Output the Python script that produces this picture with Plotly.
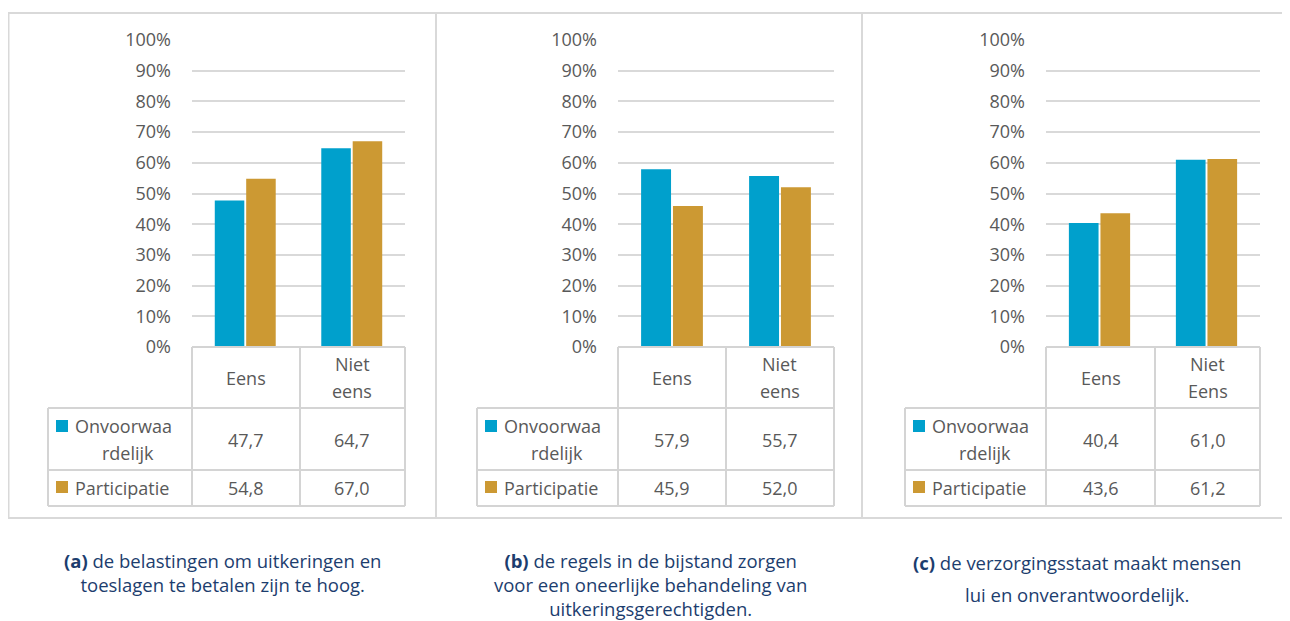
import plotly.graph_objects as go

# ---------------- data ----------------
categories = [["Eens", "Niet<br>eens"], ["Eens", "Niet<br>eens"], ["Eens", "Niet<br>Eens"]]
onvoorwaardelijk = [[47.7, 64.7], [57.9, 55.7], [40.4, 61.0]]
participatie = [[54.8, 67.0], [45.9, 52.0], [43.6, 61.2]]
series_names = ["Onvoorwaa<br>rdelijk", "Participatie"]
captions = [
    ["<b>(a)</b> de belastingen om uitkeringen en", "toeslagen te betalen zijn te hoog."],
    ["<b>(b)</b> de regels in de bijstand zorgen", "voor een oneerlijke behandeling van", "uitkeringsgerechtigden."],
    ["<b>(c)</b> de verzorgingsstaat maakt mensen", "lui en onverantwoordelijk."],
]
y_ticks = list(range(0, 101, 10))

# ---------------- style ----------------
BLUE = "#00A0CC"
GOLD = "#CC9933"
TXT = "#595959"
GRID = "#D9D9D9"
TBL = "#D4D4D4"
CAP = "#1C3D6E"
FONT = "Open Sans"
FS = 18
LINE = 27  # line spacing of two-line table labels

# page offset (body margin) and figure size
OFF = 8
W, H = 1290 - OFF, 621 - OFF

# panel geometry (pixels, in screenshot coordinates)
panels = [
    dict(left=8.5, right=436, leg=48, px0=192, px1=405, split=300, cx=222),
    dict(left=436, right=862, leg=477, px0=618, px1=834, split=726, cx=650),
    dict(left=862, right=1295, leg=905, px0=1046, px1=1260, split=1155, cx=1077),
]
PLOT_TOP, PLOT_BOT = 40, 347
ROW1, ROW2, ROW3 = 408, 470, 506
BOX_TOP, BOX_BOT = 13, 518
# caption placement: (first line centre y, line spacing, as one block?)
cap_pos = [(560, 24, True), (560, 24, True), (562, 32, False)]


def fx(x):
    return (x - OFF) / W


def fy(y):
    return 1 - (y - OFF) / H


fig = go.Figure()
shapes = []
annotations = []


def hline(x0, x1, y, color=TBL, w=2):
    shapes.append(dict(type="line", xref="paper", yref="paper", x0=fx(x0), x1=fx(x1), y0=fy(y), y1=fy(y),
                       line=dict(color=color, width=w)))


def vline(x, y0, y1, color=TBL, w=2):
    shapes.append(dict(type="line", xref="paper", yref="paper", x0=fx(x), x1=fx(x), y0=fy(y0), y1=fy(y1),
                       line=dict(color=color, width=w)))


def text(x, y, t, size=FS, color=TXT, xanchor="center", align="center", family=FONT):
    annotations.append(dict(xref="paper", yref="paper", x=fx(x), y=fy(y), text=t, showarrow=False,
                            xanchor=xanchor, yanchor="middle", align=align,
                            font=dict(family=family, size=size, color=color)))


def multiline(x, yc, t, xanchors=None):
    lines = t.split("<br>")
    k = len(lines)
    for j, ln in enumerate(lines):
        yy = yc + (j - (k - 1) / 2) * LINE
        xx, xa = (x, "center") if xanchors is None else xanchors[j]
        text(xx, yy, ln, xanchor=xa)


for i, p in enumerate(panels):
    n = "" if i == 0 else str(i + 1)
    xa, ya = "x" + n, "y" + n
    fig.add_trace(go.Bar(x=[0, 1], y=onvoorwaardelijk[i], marker=dict(color=BLUE, line=dict(width=0)),
                         xaxis=xa, yaxis=ya, showlegend=False, name="Onvoorwaardelijk"))
    fig.add_trace(go.Bar(x=[0, 1], y=participatie[i], marker=dict(color=GOLD, line=dict(width=0)),
                         xaxis=xa, yaxis=ya, showlegend=False, name="Participatie"))
    fig.layout["xaxis" + n] = dict(domain=[fx(p["px0"]), fx(p["px1"])], range=[-0.5, 1.5],
                                   showticklabels=False, showgrid=False, zeroline=False,
                                   showline=False, anchor=ya, fixedrange=True, automargin=False)
    fig.layout["yaxis" + n] = dict(domain=[fy(PLOT_BOT), fy(PLOT_TOP)], range=[0, 100],
                                   tickvals=y_ticks, ticktext=[f"{v}%" for v in y_ticks],
                                   gridcolor=GRID, gridwidth=1.5, zeroline=False, showline=False,
                                   anchor=xa, ticks="", ticklabelstandoff=20, automargin=False,
                                   tickfont=dict(family=FONT, size=FS, color=TXT), fixedrange=True)

    # panel border
    shapes.append(dict(type="rect", xref="paper", yref="paper", x0=fx(p["left"]), x1=fx(p["right"]),
                       y0=fy(BOX_BOT), y1=fy(BOX_TOP), line=dict(color=GRID, width=2)))

    # data table
    hline(p["px0"], p["px1"], PLOT_BOT)
    hline(p["leg"], p["px1"], ROW1)
    hline(p["leg"], p["px1"], ROW2)
    hline(p["leg"], p["px1"], ROW3)
    vline(p["px0"], PLOT_BOT, ROW3)
    vline(p["split"], PLOT_BOT, ROW3)
    vline(p["px1"], PLOT_BOT, ROW3)
    vline(p["leg"], ROW1, ROW3)

    col_centers = [(p["px0"] + p["split"]) / 2, (p["split"] + p["px1"]) / 2]
    for c, cat in zip(col_centers, categories[i]):
        multiline(c, (PLOT_BOT + ROW1) / 2, cat)
    for c, v in zip(col_centers, onvoorwaardelijk[i]):
        text(c, (ROW1 + ROW2) / 2 + 1, f"{v:.1f}".replace(".", ","))
    for c, v in zip(col_centers, participatie[i]):
        text(c, (ROW2 + ROW3) / 2, f"{v:.1f}".replace(".", ","))

    # legend keys
    for (y_sq, y_txt, color, name) in [(426, (ROW1 + ROW2) / 2, BLUE, series_names[0]),
                                       (487, (ROW2 + ROW3) / 2, GOLD, series_names[1])]:
        shapes.append(dict(type="rect", xref="paper", yref="paper", x0=fx(p["leg"] + 8), x1=fx(p["leg"] + 20),
                           y0=fy(y_sq + 6), y1=fy(y_sq - 6), fillcolor=color, line=dict(width=0)))
        anchors = [(p["leg"] + 25, "left"), (p["leg"] + 80, "center")]
        multiline(None, y_txt, name, xanchors=anchors)

    # caption
    y0, sp, block = cap_pos[i]
    lines = captions[i]
    if block:
        yc = y0 + sp * (len(lines) - 1) / 2
        text(p["cx"], yc, "<br>".join(lines), size=18.5, color=CAP)
    else:
        for j, line in enumerate(lines):
            text(p["cx"], y0 + j * sp, line, size=18.5, color=CAP)

fig.update_layout(
    width=W, height=H, margin=dict(l=0, r=0, t=0, b=0, autoexpand=False),
    paper_bgcolor="white", plot_bgcolor="white",
    barmode="group", bargap=0.41, bargroupgap=0.06,
    shapes=shapes, annotations=annotations,
    font=dict(family=FONT, color=TXT),
)

fig.write_html("out.html", config={"displayModeBar": False})
